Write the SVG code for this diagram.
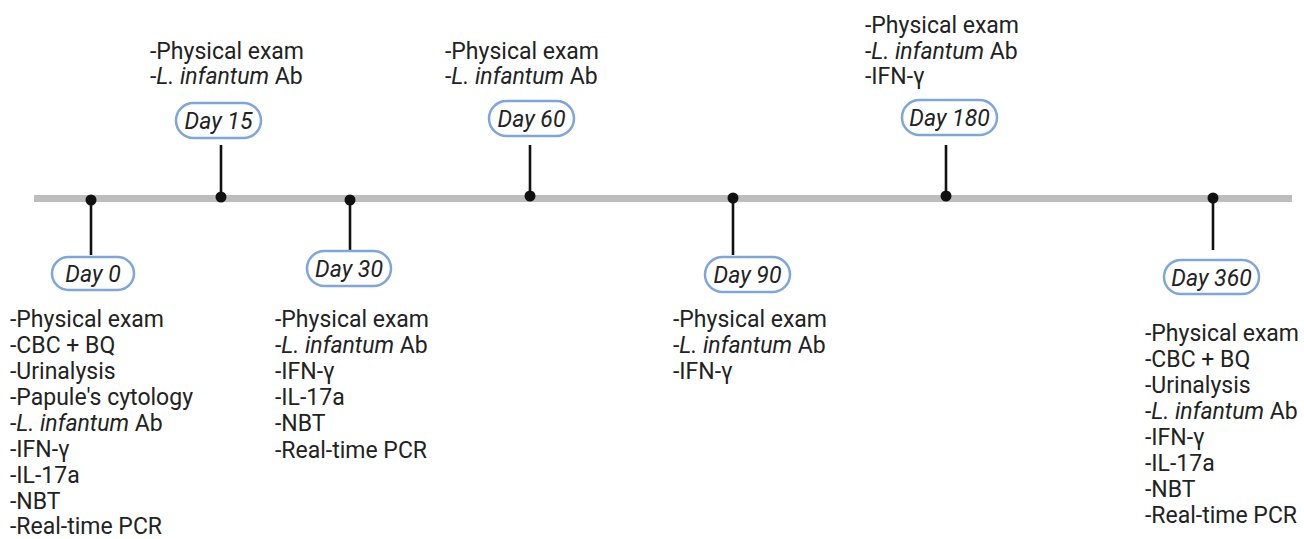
<svg xmlns="http://www.w3.org/2000/svg" width="1304" height="539" viewBox="0 0 1304 539">
<style>
.bar{stroke:#bdbdbd;stroke-width:7;fill:none}
.stem{stroke:#111;stroke-width:2.6;fill:none}
.dot{fill:#111}
.pill{fill:#fff;stroke:#7fa6da;stroke-width:2.5}
.pt{font-family:Roboto,"Liberation Sans",sans-serif;font-size:23px;font-style:italic;fill:#222;text-anchor:middle}
.lt{font-family:Roboto,"Liberation Sans",sans-serif;font-size:23px;fill:#222}
.i{font-style:italic}
</style>
<rect width="1304" height="539" fill="#fff"/>
<g id="connectors">
<line class="bar" x1="34" y1="198.5" x2="1292" y2="198.5"/>
<line class="stem" x1="91" y1="200" x2="91" y2="255"/>
<line class="stem" x1="221" y1="197" x2="221" y2="145"/>
<line class="stem" x1="350" y1="200" x2="350" y2="250"/>
<line class="stem" x1="530" y1="196" x2="530" y2="145"/>
<line class="stem" x1="733" y1="198" x2="733" y2="255"/>
<line class="stem" x1="946" y1="196" x2="946" y2="145"/>
<line class="stem" x1="1213" y1="198" x2="1213" y2="250"/>
<circle class="dot" cx="91" cy="200" r="5.5"/>
<circle class="dot" cx="221" cy="197" r="5.5"/>
<circle class="dot" cx="350" cy="200" r="5.5"/>
<circle class="dot" cx="530" cy="196" r="5.5"/>
<circle class="dot" cx="733" cy="198" r="5.5"/>
<circle class="dot" cx="946" cy="196" r="5.5"/>
<circle class="dot" cx="1213" cy="198" r="5.5"/>
</g>
<g id="day0">
<rect class="pill" x="52" y="257" width="82" height="33" rx="16.5"/>
<text class="pt" x="93" y="281.5">Day 0</text>
<text class="lt" x="10" y="327">-Physical exam</text>
<text class="lt" x="10" y="353">-CBC + BQ</text>
<text class="lt" x="10" y="379">-Urinalysis</text>
<text class="lt" x="10" y="405">-Papule's cytology</text>
<text class="lt" x="10" y="431">-<tspan class="i">L. infantum</tspan> Ab</text>
<text class="lt" x="10" y="457">-IFN-γ</text>
<text class="lt" x="10" y="483">-IL-17a</text>
<text class="lt" x="10" y="509">-NBT</text>
<text class="lt" x="10" y="534">-Real-time PCR</text>
</g>
<g id="day15">
<rect class="pill" x="176" y="103" width="85" height="35" rx="17.5"/>
<text class="pt" x="218.5" y="128.5">Day 15</text>
<text class="lt" x="150" y="59">-Physical exam</text>
<text class="lt" x="150" y="84">-<tspan class="i">L. infantum</tspan> Ab</text>
</g>
<g id="day30">
<rect class="pill" x="307" y="251" width="84" height="35" rx="17.5"/>
<text class="pt" x="349" y="276.5">Day 30</text>
<text class="lt" x="275" y="327">-Physical exam</text>
<text class="lt" x="275" y="353">-<tspan class="i">L. infantum</tspan> Ab</text>
<text class="lt" x="275" y="379">-IFN-γ</text>
<text class="lt" x="275" y="405">-IL-17a</text>
<text class="lt" x="275" y="431">-NBT</text>
<text class="lt" x="275" y="458">-Real-time PCR</text>
</g>
<g id="day60">
<rect class="pill" x="489" y="101" width="85" height="35" rx="17.5"/>
<text class="pt" x="531.5" y="126.5">Day 60</text>
<text class="lt" x="445" y="59">-Physical exam</text>
<text class="lt" x="445" y="84">-<tspan class="i">L. infantum</tspan> Ab</text>
</g>
<g id="day90">
<rect class="pill" x="705" y="257" width="85" height="35" rx="17.5"/>
<text class="pt" x="747.5" y="282.5">Day 90</text>
<text class="lt" x="673" y="327">-Physical exam</text>
<text class="lt" x="673" y="353">-<tspan class="i">L. infantum</tspan> Ab</text>
<text class="lt" x="673" y="379">-IFN-γ</text>
</g>
<g id="day180">
<rect class="pill" x="902" y="100" width="95" height="35" rx="17.5"/>
<text class="pt" x="949.5" y="125.5">Day 180</text>
<text class="lt" x="865" y="33">-Physical exam</text>
<text class="lt" x="865" y="59">-<tspan class="i">L. infantum</tspan> Ab</text>
<text class="lt" x="865" y="84">-IFN-γ</text>
</g>
<g id="day360">
<rect class="pill" x="1164" y="260" width="95" height="34" rx="17"/>
<text class="pt" x="1211.5" y="285.5">Day 360</text>
<text class="lt" x="1145" y="341">-Physical exam</text>
<text class="lt" x="1145" y="367">-CBC + BQ</text>
<text class="lt" x="1145" y="393">-Urinalysis</text>
<text class="lt" x="1145" y="419">-<tspan class="i">L. infantum</tspan> Ab</text>
<text class="lt" x="1145" y="445">-IFN-γ</text>
<text class="lt" x="1145" y="471">-IL-17a</text>
<text class="lt" x="1145" y="497">-NBT</text>
<text class="lt" x="1145" y="523">-Real-time PCR</text>
</g>
</svg>
